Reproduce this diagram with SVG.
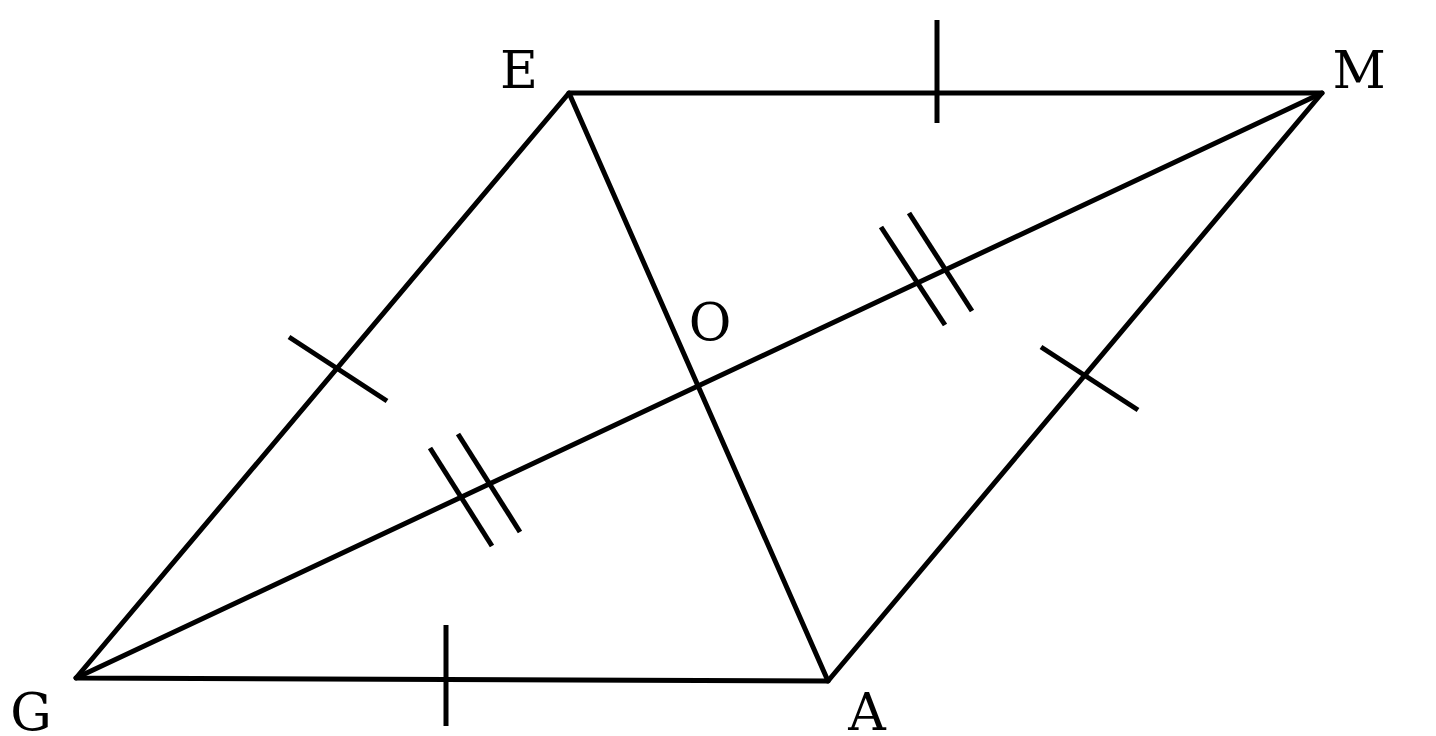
<svg xmlns="http://www.w3.org/2000/svg" width="1436" height="736" viewBox="0 0 1436 736">
<style>
.l{stroke:#000;stroke-width:5;fill:none;stroke-linecap:round;stroke-linejoin:round}
.t{stroke:#000;stroke-width:5}
text{font-family:"DejaVu Serif","Liberation Serif",serif;font-size:52px;fill:#000;text-anchor:middle}
</style>
<rect width="1436" height="736" fill="#fff"/>
<g id="lines">
<polygon class="l" points="569,93 1322,93 828,681 76,678"/>
<line class="l" x1="569" y1="93" x2="828" y2="681"/>
<line class="l" x1="76" y1="678" x2="1322" y2="93"/>
</g>
<g id="ticks">
<line class="t" x1="937" y1="20" x2="937" y2="123"/>
<line class="t" x1="446" y1="625" x2="446" y2="726"/>
<line class="t" x1="289" y1="337" x2="387" y2="401"/>
<line class="t" x1="1041" y1="347" x2="1138" y2="410"/>
<line class="t" x1="430" y1="448" x2="492" y2="546"/>
<line class="t" x1="458" y1="434" x2="520" y2="532"/>
<line class="t" x1="881" y1="227" x2="945" y2="325"/>
<line class="t" x1="909" y1="213" x2="972" y2="311"/>
</g>
<g id="labels">
<text x="519" y="88">E</text>
<text x="1359" y="88">M</text>
<text x="710" y="340">O</text>
<text x="31" y="730">G</text>
<text x="867" y="730">A</text>
</g>
</svg>
